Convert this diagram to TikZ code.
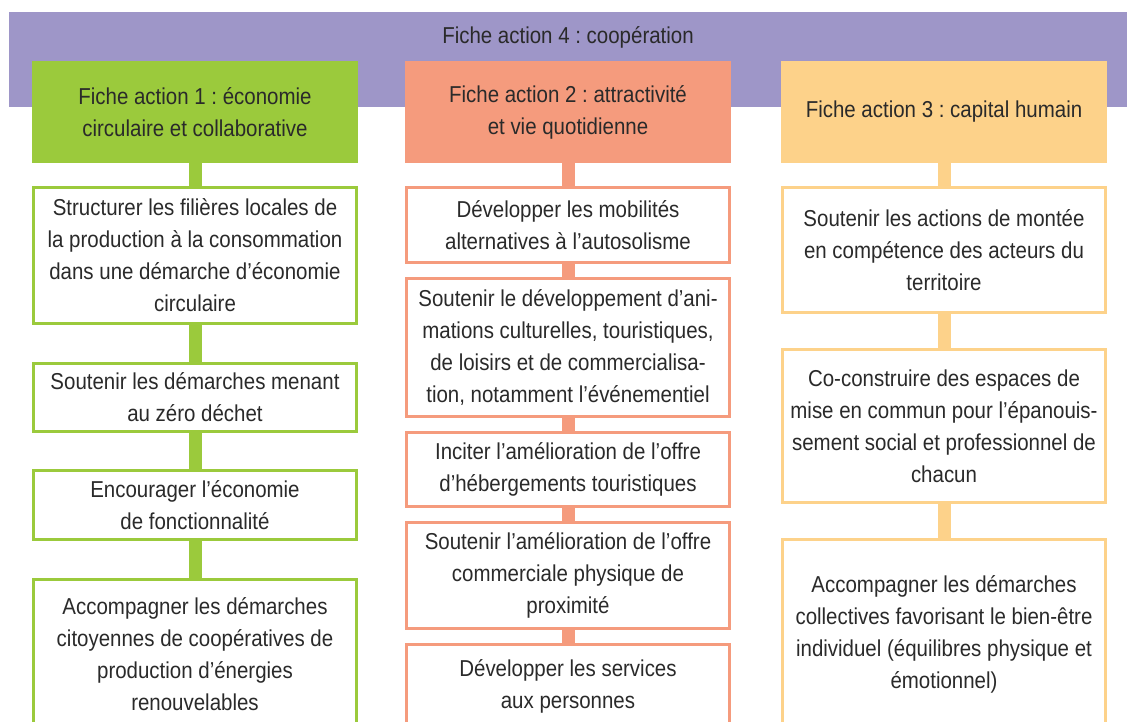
\documentclass[tikz,border=0pt]{standalone}
\usepackage{fontspec}
\setmainfont{Liberation Sans}[FakeStretch=0.89]
\frenchspacing
\definecolor{purp}{RGB}{158,150,200}
\definecolor{grn}{RGB}{155,202,60}
\definecolor{orng}{RGB}{245,155,125}
\definecolor{ylw}{RGB}{253,210,138}
\definecolor{txt}{RGB}{42,42,42}
\begin{document}
\begin{tikzpicture}[x=1pt,y=-1pt,
  every node/.style={font=\fontsize{23}{32}\selectfont\frenchspacing, text=txt, align=center, inner sep=0pt},
  header/.style={fill=#1, minimum width=326, minimum height=102},
  item/.style={draw=#1, line width=3pt, fill=white, minimum width=323},
  conn/.style={draw=#1, line width=13pt}]
\useasboundingbox (0,0) rectangle (1127,722);
\clip (0,0) rectangle (1127,722);
\fill[white] (0,0) rectangle (1127,722);
% top band
\fill[purp] (9,12) rectangle (1127,107);
\node (title) at (568,37) {Fiche action 4 : coopération};
% headers
\node[header=grn]  (gh) at (195,112) {Fiche action 1 : économie\\circulaire et collaborative};
\node[header=orng] (oh) at (568,112) {Fiche action 2 : attractivité\\et vie quotidienne};
\node[header=ylw]  (yh) at (944,112) {Fiche action 3 : capital humain};
% green column
\node[item=grn, minimum height=136] (g1) at (195,255.5) {Structurer les filières locales de\\la production à la consommation\\dans une démarche d’économie\\circulaire};
\node[item=grn, minimum height=68] (g2) at (195,397.5) {Soutenir les démarches menant\\au zéro déchet};
\node[item=grn, minimum height=69] (g3) at (195,505) {Encourager l’économie\\de fonctionnalité};
\node[item=grn, minimum height=149] (g4) at (195,654) {Accompagner les démarches\\citoyennes de coopératives de\\production d’énergies\\renouvelables};
% orange column
\node[item=orng, minimum height=75] (o1) at (568,225) {Développer les mobilités\\alternatives à l’autosolisme};
\node[item=orng, minimum height=138] (o2) at (568,347.5) {Soutenir le développement d’ani-\\mations culturelles, touristiques,\\de loisirs et de commercialisa-\\tion, notamment l’événementiel};
\node[item=orng, minimum height=74] (o3) at (568,469.5) {Inciter l’amélioration de l’offre\\d’hébergements touristiques};
\node[item=orng, minimum height=106] (o4) at (568,575.5) {Soutenir l’amélioration de l’offre\\commerciale physique de\\proximité};
\node[item=orng, minimum height=84] (o5) at (568,686.5) {Développer les services\\aux personnes};
% yellow column
\node[item=ylw, minimum height=125] (y1) at (944,250) {Soutenir les actions de montée\\en compétence des acteurs du\\territoire};
\node[item=ylw, minimum height=153] (y2) at (944,426) {Co-construire des espaces de\\mise en commun pour l’épanouis-\\sement social et professionnel de\\chacun};
\node[item=ylw, minimum height=189] (y3) at (944,634) {Accompagner les démarches\\collectives favorisant le bien-être\\individuel (équilibres physique et\\émotionnel)};
% connectors
\draw[conn=grn] (gh.south) -- (g1.north);
\draw[conn=grn] (g1.south) -- (g2.north);
\draw[conn=grn] (g2.south) -- (g3.north);
\draw[conn=grn] (g3.south) -- (g4.north);
\draw[conn=orng] (oh.south) -- (o1.north);
\draw[conn=orng] (o1.south) -- (o2.north);
\draw[conn=orng] (o2.south) -- (o3.north);
\draw[conn=orng] (o3.south) -- (o4.north);
\draw[conn=orng] (o4.south) -- (o5.north);
\draw[conn=ylw] (yh.south) -- (y1.north);
\draw[conn=ylw] (y1.south) -- (y2.north);
\draw[conn=ylw] (y2.south) -- (y3.north);
\end{tikzpicture}
\end{document}
